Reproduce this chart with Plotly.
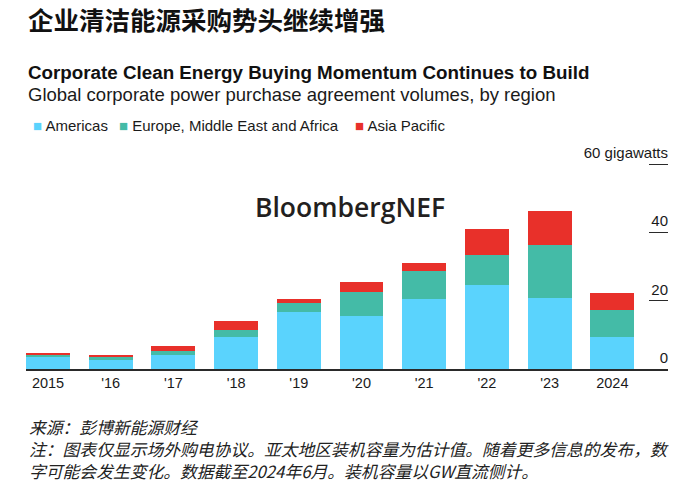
import plotly.graph_objects as go

# ---- data (GW) ----
years = ["2015", "'16", "'17", "'18", "'19", "'20", "'21", "'22", "'23", "2024"]
americas = [3.6, 2.5, 4.2, 9.3, 16.7, 15.4, 20.4, 24.6, 20.9, 9.4]
emea = [0.7, 0.9, 1.0, 2.2, 2.5, 7.2, 8.4, 8.7, 15.3, 8.0]
apac = [0.4, 0.7, 1.4, 2.6, 1.4, 2.9, 2.3, 7.7, 10.0, 4.8]
series_names = ["Americas", "Europe, Middle East and Africa", "Asia Pacific"]
series_colors = ["#5AD3FD", "#44BBA7", "#E8302A"]
y_tickvals = [0, 20, 40, 60]
y_ticktext = ["0", "20", "40", "60 gigawatts"]

W, H = 700, 493
YMAX = 60
L, R, T, B = 26, 668, 164.3, 369.3

def px(x):
    return (x - L) / (R - L)

def py(y):
    return (B - y) / (B - T)

LAT = "Liberation Sans, Arial, sans-serif"
CJK = "Noto Sans CJK SC, sans-serif"

fig = go.Figure()
for name, vals, col in zip(series_names, [americas, emea, apac], series_colors):
    fig.add_trace(go.Bar(x=years, y=vals, name=name, marker=dict(color=col, line=dict(width=0)),
                         showlegend=False))

fig.update_layout(
    width=W, height=H,
    barmode="stack", bargap=0.3,
    margin=dict(l=L, r=W - R, t=T, b=H - B, pad=0),
    paper_bgcolor="white", plot_bgcolor="white",
    font=dict(family=LAT, color="#1a1a1a"),
    xaxis=dict(type="category", range=[-0.351, 9.888], showline=True, linecolor="#2a2a2a",
               linewidth=1.5, ticks="", showgrid=False, zeroline=False,
               tickfont=dict(size=14.5, color="#1a1a1a")),
    yaxis=dict(side="left", anchor="free", position=1, range=[0, YMAX],
               tickvals=y_tickvals, ticktext=y_ticktext,
               ticks="outside", ticklen=19, tickwidth=1.3, tickcolor="#2a2a2a",
               ticklabelposition="outside top", ticklabelstandoff=-3,
               showgrid=False, zeroline=False, showline=False,
               tickfont=dict(size=15, color="#1a1a1a")),
)

ann = []
ann.append(dict(text="<b>企业清洁能源采购势头继续增强</b>", x=px(26), y=py(19), xanchor="left", yanchor="middle",
                font=dict(family=CJK, size=25.5, color="#111111")))
ann.append(dict(text="<b>Corporate Clean Energy Buying Momentum Continues to Build</b>", x=px(26), y=py(73),
                xanchor="left", yanchor="middle", font=dict(family=LAT, size=18.8, color="#111111")))
ann.append(dict(text="Global corporate power purchase agreement volumes, by region", x=px(26), y=py(95),
                xanchor="left", yanchor="middle", font=dict(family=LAT, size=18.5, color="#1a1a1a")))
for name, col, xpos in zip(series_names, series_colors, [31, 117, 353]):
    ann.append(dict(text=f'<span style="color:{col}">■</span> {name}', x=px(xpos), y=py(126),
                    xanchor="left", yanchor="middle", font=dict(family=LAT, size=15, color="#1a1a1a")))
ann.append(dict(text="BloombergNEF", x=px(253), y=py(207), xanchor="left", yanchor="middle",
                font=dict(family="Open Sans, sans-serif", size=26.5, color="#231f20", weight=600)))
source = "来源：彭博新能源财经"
note = ["注：图表仅显示场外购电协议。亚太地区装机容量为估计值。随着更多信息的发布，数",
        "字可能会发生变化。数据截至2024年6月。装机容量以GW直流侧计。"]
ann.append(dict(text=source, x=px(27), y=py(427), xanchor="left", yanchor="middle",
                font=dict(family=CJK, size=16.8, color="#222222", style="italic")))
ann.append(dict(text="<br>".join(note), x=px(27), y=py(460), xanchor="left", yanchor="middle",
                align="left", font=dict(family=CJK, size=16.8, color="#222222", style="italic")))
for a in ann:
    a.update(xref="paper", yref="paper", showarrow=False)
fig.update_layout(annotations=ann)

fig.write_html("out.html", config={"displayModeBar": False},
               post_script="document.body.style.margin='0px';")
